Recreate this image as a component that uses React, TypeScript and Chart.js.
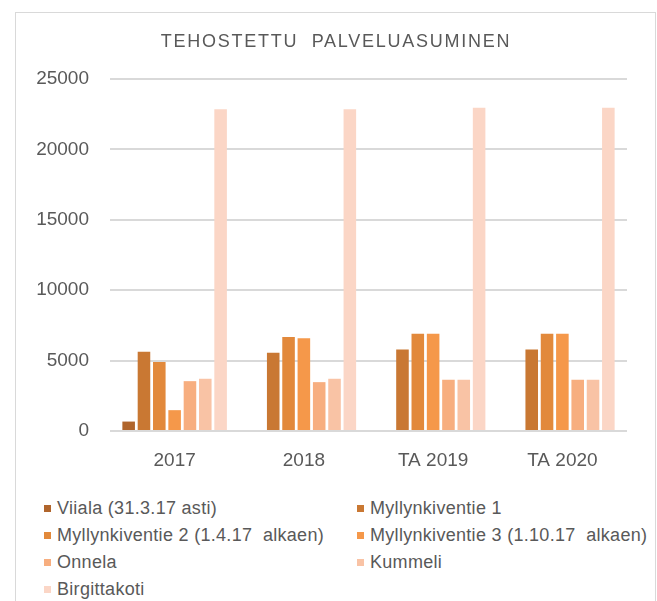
import React, { useEffect, useRef } from 'react';
import { Chart, registerables } from 'chart.js';

Chart.register(...registerables);

const title = 'TEHOSTETTU  PALVELUASUMINEN';
const categories = ['2017', '2018', 'TA 2019', 'TA 2020'];
const seriesNames = [
  'Viiala (31.3.17 asti)',
  'Myllynkiventie 1',
  'Myllynkiventie 2 (1.4.17  alkaen)',
  'Myllynkiventie 3 (1.10.17  alkaen)',
  'Onnela',
  'Kummeli',
  'Birgittakoti',
];
const viiala = [670, null, null, null];
const myllynkiventie1 = [5620, 5550, 5790, 5790];
const myllynkiventie2 = [4900, 6670, 6910, 6910];
const myllynkiventie3 = [1480, 6580, 6910, 6910];
const onnela = [3540, 3470, 3640, 3640];
const kummeli = [3710, 3710, 3640, 3640];
const birgittakoti = [22850, 22850, 22950, 22950];
const yMin = 0;
const yMax = 25000;
const yStep = 5000;

const seriesValues = [viiala, myllynkiventie1, myllynkiventie2, myllynkiventie3, onnela, kummeli, birgittakoti];
const seriesColors = ['#B0652C', '#C97833', '#E2893B', '#F5984A', '#F7AE7F', '#F9C3A5', '#FBD6C6'];

const FONT = '"Liberation Sans", Arial, sans-serif';
const TEXT = '#595959';

export default function App() {
  const ref = useRef<HTMLCanvasElement>(null);

  useEffect(() => {
    if (!ref.current) return;
    const chart = new Chart(ref.current, {
      type: 'bar',
      data: {
        labels: categories,
        datasets: seriesNames.map((name, i) => ({
          label: name,
          data: seriesValues[i],
          backgroundColor: seriesColors[i],
          borderWidth: 0,
          categoryPercentage: 0.83,
          barPercentage: 0.82,
        })),
      },
      options: {
        responsive: false,
        animation: false,
        layout: { padding: { top: 79, right: 30, left: 0, bottom: 0 } },
        plugins: {
          legend: { display: false },
          title: { display: false },
          tooltip: { enabled: false },
        },
        scales: {
          x: {
            grid: { display: false },
            border: { display: false },
            ticks: { color: TEXT, font: { family: FONT, size: 19 }, padding: 10 },
            afterFit: (s: any) => {
              s.height = 49;
            },
          },
          y: {
            min: yMin,
            max: yMax,
            ticks: {
              stepSize: yStep,
              color: TEXT,
              font: { family: FONT, size: 19 },
              padding: 21,
              callback: (v: any) => String(v),
            },
            grid: { color: '#D9D9D9', lineWidth: 2, drawTicks: false },
            border: { display: false },
            afterFit: (s: any) => {
              s.width = 110;
            },
          },
        },
      },
    });
    return () => chart.destroy();
  }, []);

  const legendLeft = [44, 357];
  const rowY = [508, 535, 562, 589];

  return (
    <div style={{ position: 'fixed', left: 0, top: 0, width: 657, height: 601, background: '#fff', overflow: 'hidden' }}>
      <div
        style={{
          position: 'absolute',
          left: 15,
          top: 12,
          width: 641,
          height: 589,
          borderTop: '1px solid #D9D9D9',
          borderLeft: '1px solid #D9D9D9',
          borderRight: '1px solid #D9D9D9',
          boxSizing: 'border-box',
        }}
      />
      <canvas ref={ref} width={657} height={480} style={{ position: 'absolute', left: 0, top: 0 }} />
      <div
        style={{
          position: 'absolute',
          left: 136,
          width: 400,
          top: 29,
          height: 24,
          lineHeight: '24px',
          textAlign: 'center',
          fontFamily: FONT,
          fontSize: 18,
          letterSpacing: '1.75px',
          whiteSpace: 'pre',
          color: TEXT,
        }}
      >
        {title}
      </div>
      {seriesNames.map((name, i) => {
        const col = i % 2;
        const row = Math.floor(i / 2);
        const x = legendLeft[col];
        const y = rowY[row];
        return (
          <div key={name} style={{ position: 'absolute', left: x, top: y - 12, height: 24, display: 'flex', alignItems: 'center', whiteSpace: 'pre' }}>
            <span style={{ display: 'inline-block', width: 7, height: 7, background: seriesColors[i], marginRight: 6 }} />
            <span style={{ fontFamily: FONT, fontSize: 18, letterSpacing: '0.3px', color: TEXT, lineHeight: '24px' }}>{name}</span>
          </div>
        );
      })}
    </div>
  );
}
